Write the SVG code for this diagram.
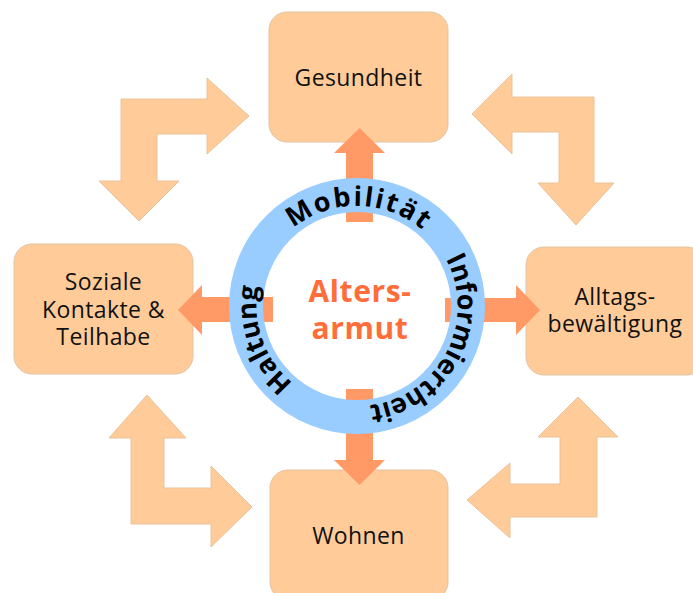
<svg xmlns="http://www.w3.org/2000/svg" width="693" height="593" viewBox="0 0 693 593">
<style>
.big{fill:#ffcc99;stroke:#e8c29c;stroke-width:1}
.box{fill:#ffcc99;stroke:#e3c3a3;stroke-width:1}
.lbl{font-family:"Open Sans","Noto Sans",sans-serif;font-size:23px;letter-spacing:0.4px;fill:#111;text-anchor:middle}
.arr{fill:#ff9966}
.ring{fill:none;stroke:#99ccff;stroke-width:34}
.rt{font-family:"Open Sans","Noto Sans",sans-serif;font-size:27px;font-weight:bold;fill:#000;text-anchor:middle}
.ct{font-family:"Open Sans","Noto Sans",sans-serif;font-size:30px;font-weight:bold;fill:#ff6e3a;text-anchor:middle;letter-spacing:0.6px}
</style>
<defs>
<path id="ringpath" d="M 339.64 404.48 A 100 100 0 1 1 374.36 207.52 A 100 100 0 1 1 339.64 404.48"/>
</defs>
<g id="connectors">
<polygon class="big" points="121,99 207,99 207,78 249,116 207,154 207,134 157,134 157,181 179,181 139,221 99,181 121,181"/>
<polygon class="big" points="472,114 512,74 512,97 594,97 594,183 614,183 576,225 538,183 559,183 559,132 512,132 512,154"/>
<polygon class="big" points="147,395 186,438 164,438 164,488 211,488 211,466 252,507 211,547 211,524 131,524 131,438 109,438"/>
<polygon class="big" points="578,397 618,437 597,437 597,517 510,517 510,538 467,500 510,463 510,484 560,484 560,437 538,437"/>
</g>
<g id="gesundheit">
<rect class="box" x="269" y="12" width="179" height="130" rx="18"/>
<text class="lbl" x="358.5" y="86">Gesundheit</text>
</g>
<g id="soziale">
<rect class="box" x="14" y="244" width="179" height="130" rx="18"/>
<text class="lbl" x="103.5" y="290">Soziale</text>
<text class="lbl" x="103.5" y="317.5">Kontakte &amp;</text>
<text class="lbl" x="103.5" y="345">Teilhabe</text>
</g>
<g id="alltag">
<rect class="box" x="526" y="247" width="179" height="128" rx="18"/>
<text class="lbl" x="615" y="305">Alltags-</text>
<text class="lbl" x="615" y="332">bewältigung</text>
</g>
<g id="wohnen">
<rect class="box" x="270" y="470" width="178" height="130" rx="18"/>
<text class="lbl" x="358.5" y="544">Wohnen</text>
</g>
<g id="inner-arrows">
<polygon class="arr" points="346,222 346,153 334,153 359.5,128 385,153 373,153 373,222"/>
<polygon class="arr" points="346,389 346,460 334,460 359.5,485 385,460 373,460 373,389"/>
<polygon class="arr" points="273,297 202,297 202,285 178,310 202,335 202,322 273,322"/>
<polygon class="arr" points="445,298 516,298 516,285 540,310 516,335 516,322 445,322"/>
</g>
<g id="ring">
<circle class="ring" cx="357" cy="306" r="111"/>
<text class="rt"><textPath href="#ringpath" startOffset="105.6">Haltung</textPath></text>
<text class="rt" letter-spacing="2"><textPath href="#ringpath" startOffset="299.4">Mobilität</textPath></text>
<text class="rt"><textPath href="#ringpath" startOffset="502.8">Informiertheit</textPath></text>
</g>
<g id="center">
<text class="ct" x="360" y="302">Alters-</text>
<text class="ct" x="360" y="339">armut</text>
</g>
</svg>
